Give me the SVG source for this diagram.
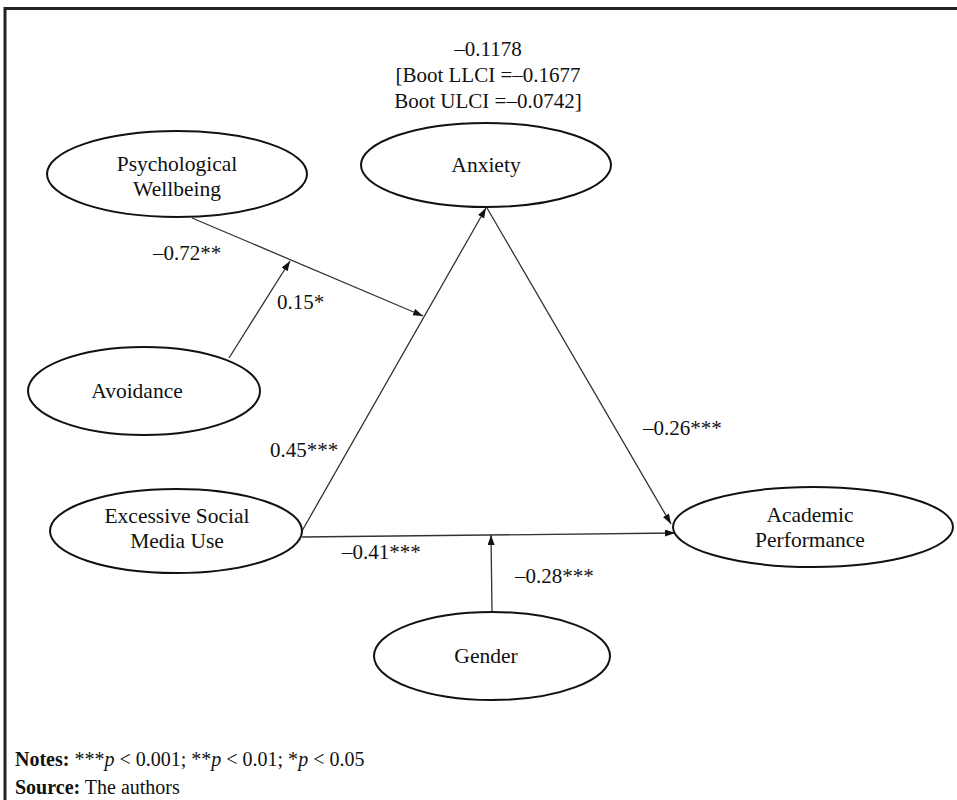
<svg xmlns="http://www.w3.org/2000/svg" width="957" height="800" viewBox="0 0 957 800">
<style>
.t{font-family:"Liberation Serif","Times New Roman",serif;font-size:21px;fill:#111}
.nt{font-family:"Liberation Serif","Times New Roman",serif;font-size:21.5px;fill:#111;text-anchor:middle}
.c{text-anchor:middle}
.node{fill:#fff;stroke:#111;stroke-width:2}
.edge{stroke:#333;stroke-width:1.3;fill:none}
.n{font-family:"Liberation Serif","Times New Roman",serif;font-size:20px;fill:#111}
</style>
<defs>
<marker id="ah" markerUnits="userSpaceOnUse" markerWidth="11" markerHeight="8" refX="10" refY="3.5" orient="auto">
<path d="M0,0 L10,3.5 L0,7 z" fill="#111"/>
</marker>
</defs>
<rect x="0" y="0" width="957" height="800" fill="#fff"/>
<g id="frame">
<line x1="5" y1="7" x2="5" y2="800" stroke="#222" stroke-width="3"/>
<line x1="4" y1="8.5" x2="957" y2="8.5" stroke="#222" stroke-width="3"/>
</g>
<g id="indirect-effect">
<text class="t c" x="488" y="56">–0.1178</text>
<text class="t c" x="488" y="82">[Boot LLCI =–0.1677</text>
<text class="t c" x="488" y="108">Boot ULCI =–0.0742]</text>
</g>
<g id="connectors">
<line class="edge" x1="192" y1="218" x2="423" y2="316" marker-end="url(#ah)"/>
<line class="edge" x1="229" y1="358" x2="290" y2="261" marker-end="url(#ah)"/>
<line class="edge" x1="302" y1="531" x2="486" y2="208" marker-end="url(#ah)"/>
<line class="edge" x1="487" y1="208" x2="671" y2="524" marker-end="url(#ah)"/>
<line class="edge" x1="302" y1="537" x2="675" y2="533" marker-end="url(#ah)"/>
<line class="edge" x1="492" y1="612" x2="491" y2="535" marker-end="url(#ah)"/>
<text class="t" x="153" y="260">–0.72**</text>
<text class="t" x="277" y="309">0.15*</text>
<text class="t" x="270" y="457">0.45***</text>
<text class="t" x="643" y="435">–0.26***</text>
<text class="t" x="342" y="559">–0.41***</text>
<text class="t" x="515" y="583">–0.28***</text>
</g>
<g id="psychological-wellbeing">
<ellipse class="node" cx="177" cy="174" rx="130" ry="43"/>
<text class="nt" x="177" y="171">Psychological</text>
<text class="nt" x="177" y="196">Wellbeing</text>
</g>
<g id="anxiety">
<ellipse class="node" cx="486" cy="165" rx="125" ry="42"/>
<text class="nt" x="486" y="172">Anxiety</text>
</g>
<g id="avoidance">
<ellipse class="node" cx="144" cy="391" rx="116" ry="44"/>
<text class="nt" x="137" y="398">Avoidance</text>
</g>
<g id="excessive-social-media-use">
<ellipse class="node" cx="176" cy="531" rx="126" ry="42"/>
<text class="nt" x="177" y="523">Excessive Social</text>
<text class="nt" x="177" y="548">Media Use</text>
</g>
<g id="academic-performance">
<ellipse class="node" cx="813" cy="527" rx="140" ry="40"/>
<text class="nt" x="810" y="522">Academic</text>
<text class="nt" x="810" y="547">Performance</text>
</g>
<g id="gender">
<ellipse class="node" cx="492" cy="656" rx="118" ry="44"/>
<text class="nt" x="486" y="663">Gender</text>
</g>
<g id="notes">
<text class="n" x="15" y="766"><tspan font-weight="bold">Notes:</tspan> ***<tspan font-style="italic">p</tspan> &lt; 0.001; **<tspan font-style="italic">p</tspan> &lt; 0.01; *<tspan font-style="italic">p</tspan> &lt; 0.05</text>
<text class="n" x="15" y="794"><tspan font-weight="bold">Source:</tspan> The authors</text>
</g>
</svg>
